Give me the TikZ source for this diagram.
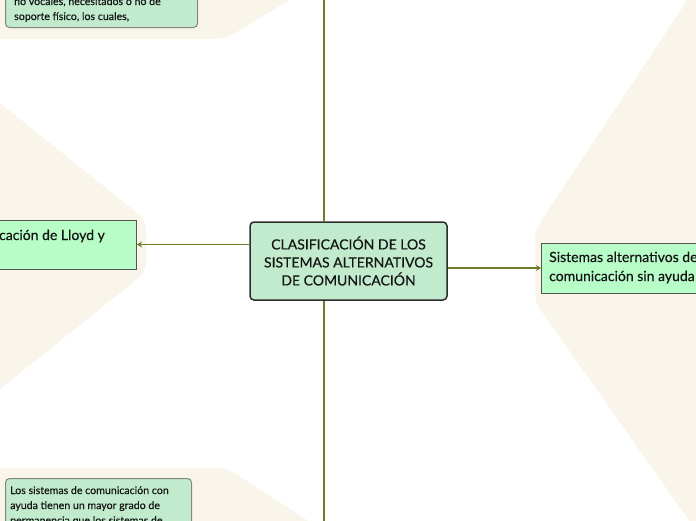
\documentclass[tikz,border=0pt]{standalone}
\usepackage{fontspec}
\setmainfont{Lato}
\newfontfamily\medfont[FakeBold=0.35]{Lato}
\usetikzlibrary{arrows.meta}
\definecolor{bgbeige}{RGB}{249,245,235}
\definecolor{olive}{RGB}{112,125,40}
\definecolor{cfill}{RGB}{193,235,204}
\definecolor{lfill}{RGB}{184,252,199}
\definecolor{cborder}{RGB}{45,45,45}
\definecolor{lborder}{RGB}{85,85,85}
\definecolor{sborder}{RGB}{130,135,130}
\definecolor{ink}{RGB}{20,20,20}
\tikzset{
  region/.style={fill=bgbeige, rounded corners=9pt},
  conn/.style={draw=olive, line width=1.4pt},
  vconn/.style={draw=olive, line width=2pt},
  tip/.style={-{Stealth[length=5pt,width=6pt]}},
  centerbox/.style={draw=cborder, fill=cfill, line width=1.5pt, rounded corners=4pt,
    minimum width=197pt, minimum height=78pt, align=center, inner sep=0pt, text=ink,
    font=\medfont\fontsize{14}{18}\selectfont},
  lvlbox/.style={draw=lborder, fill=lfill, line width=1pt, inner sep=0pt},
  smallbox/.style={draw=sborder, fill=cfill, line width=1pt, rounded corners=4pt, inner sep=0pt},
  bigtext/.style={font=\medfont\fontsize{14}{19}\selectfont, inner sep=0pt, align=left, text=ink},
  smalltext/.style={font=\medfont\fontsize{10.6}{15}\selectfont, inner sep=0pt, align=left, text=ink}
}
\begin{document}
\begin{tikzpicture}[x=1pt,y=-1pt]
\useasboundingbox (0,0) rectangle (696,520);
\clip (0,0) rectangle (696,520);
\fill[white] (0,0) rectangle (696,520);
% background regions
\fill[region] (-30,-45) -- (364,-45) -- (225,39) -- (-30,39) -- cycle;
\fill[region] (-30,468) -- (227,468) -- (307,520) -- (340,545) -- (-30,545) -- cycle;
\fill[region] (-60,55) -- (146,220) -- (146,272) -- (-60,437) -- cycle;
\fill[region] (720,-49) -- (535,230) -- (535,302) -- (700,536) -- (760,536) -- (760,-49) -- cycle;
% nodes
\node[centerbox] (center) at (348.5,261) {CLASIFICACIÓN DE LOS\\SISTEMAS ALTERNATIVOS\\DE COMUNICACIÓN};
\node[lvlbox, minimum width=220pt, minimum height=49pt, anchor=east] (lnode) at (137,244.5) {};
\node[bigtext, anchor=base east] (ltext) at (105,240) {Clasificación de Lloyd y};
\node[lvlbox, minimum width=200pt, minimum height=50pt, anchor=west] (rnode) at (541,268) {};
\node[bigtext, anchor=base west] (rtext) at (549,281) {Sistemas alternativos de\\comunicación sin ayuda};
\node[smallbox, minimum width=192pt, minimum height=70pt, anchor=south west] (tlbox) at (5,28) {};
\node[smalltext, anchor=base west] (tltext) at (14,20) {no vocales, necesitados o no de\\soporte físico, los cuales,};
\node[smallbox, minimum width=186pt, minimum height=80pt, anchor=north west] (blbox) at (5,478) {};
\node[smalltext, anchor=base west] (bltext) at (10,524) {Los sistemas de comunicación con\\ayuda tienen un mayor grado de\\permanencia que los sistemas de};
% connectors
\coordinate (topend) at (324,-5);
\coordinate (botend) at (324,525);
\draw[vconn] (topend) -- (topend |- center.north);
\draw[vconn] (botend) -- (botend |- center.south);
\draw[conn, tip] (center.west |- lnode.east) -- (lnode.east);
\draw[conn, tip] (center.east |- rnode.west) -- (rnode.west);
\end{tikzpicture}
\end{document}
